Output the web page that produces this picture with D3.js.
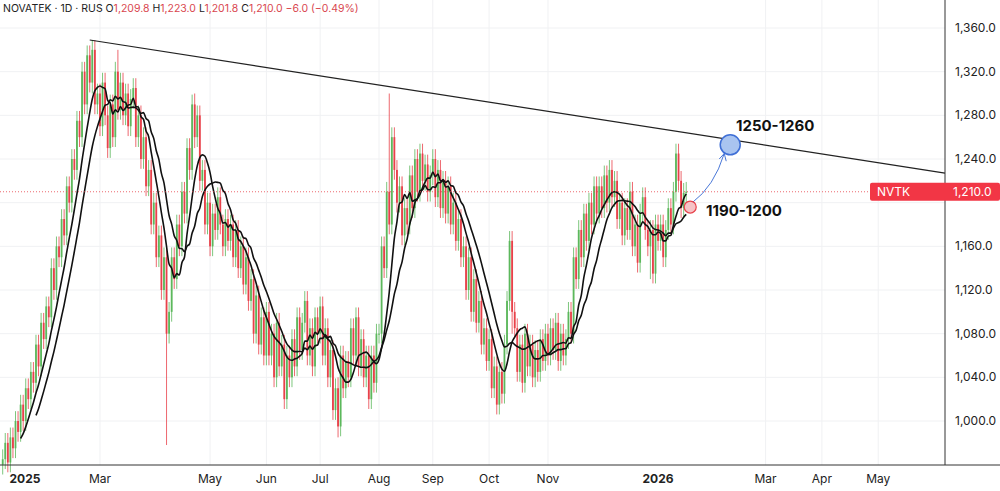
<!DOCTYPE html>
<html><head><meta charset="utf-8">
<script src="https://cdn.jsdelivr.net/npm/d3@7"></script>
<style>
  body { margin: 0; background: #fff; font-family: "Inter", "Noto Sans", sans-serif; }
  svg text { font-family: "Inter", "Noto Sans", sans-serif; }
</style></head>
<body>
<svg id="chart" width="1000" height="491"></svg>
<script>
// daily closes, month by month (trading days from 2025-01-08)
const closeJan25 = [965,980,962,985,975,1000,990,1015,1000,1030,1020,1045,1035,1070,1050,1090,1075,1105];
const closeFeb = [1095,1140,1120,1160,1150,1185,1170,1215,1200,1240,1230,1275,1260,1320,1290,1335,1310,1340,1290,1300];
const closeMar = [1270,1310,1280,1250,1290,1260,1320,1285,1310,1280,1300,1270,1295,1305,1260,1280,1240,1260,1215,1230,1180];
const closeApr = [1200,1150,1170,1120,1150,1080,1100,1150,1130,1180,1160,1210,1190,1250,1230,1290,1260,1280,1220,1230,1180,1200];
const closeMay = [1160,1190,1175,1205,1180,1160,1185,1165,1180,1150,1175,1140,1160,1125,1150,1110,1130,1080,1115,1070,1095,1060];
const closeJun = [1100,1060,1080,1040,1090,1050,1070,1020,1060,1040,1075,1050,1095,1065,1090,1110,1060,1085,1050,1095,1080];
const closeJul = [1105,1060,1085,1040,1065,1010,1030,995,1060,1030,1055,1040,1085,1060,1095,1050,1075,1040,1060,1020,1060,1035,1080];
const closeAug = [1080,1160,1140,1210,1180,1260,1230,1200,1215,1170,1195,1180,1225,1195,1240,1210,1245,1220,1235,1210,1225];
const closeSep = [1240,1205,1230,1195,1220,1190,1215,1180,1200,1165,1185,1150,1160,1120,1150,1100,1130,1090,1110,1070,1085,1055];
const closeOct = [1075,1030,1050,1015,1045,1025,1070,1110,1165,1100,1085,1045,1070,1035,1080,1050,1070,1040,1065,1045,1075,1055,1080];
const closeNov = [1060,1085,1065,1090,1055,1080,1060,1075,1100,1080,1150,1130,1175,1150,1190,1165,1200,1180,1215,1190];
const closeDec = [1215,1195,1225,1200,1230,1205,1220,1185,1200,1170,1195,1175,1210,1160,1180,1145,1190,1205,1175,1160,1175,1135,1180];
const closeJan26 = [1165,1180,1150,1175,1195,1180,1210,1245,1220,1195,1209,1210];
const closes = [].concat(closeJan25, closeFeb, closeMar, closeApr, closeMay, closeJun, closeJul,
  closeAug, closeSep, closeOct, closeNov, closeDec, closeJan26);

// notable wick extremes: [bar index, high, low]
const wickSpikes = [[35,1349,1300],[45,1340,1280],[64,1150,978],[75,1300,1250],[131,1040,985],[151,1300,1220],[199,1165,1080],[263,1248,1225],[253,1165,1130]];
const monthTicks = [["2025-01-08","2025",true],["2025-03-01","Mar"],["2025-05-01","May"],["2025-06-01","Jun"],["2025-07-01","Jul"],["2025-08-01","Aug"],["2025-09-01","Sep"],["2025-10-01","Oct"],["2025-11-01","Nov"],["2026-01-01","2026",true],["2026-03-01","Mar"],["2026-04-01","Apr"],["2026-05-01","May"]];
const priceTicks = [1000,1040,1080,1120,1160,1200,1240,1280,1320,1360];
const trendPoints = [[34,1349],[267,1264]];
const lastPrice = 1210;

// weekday calendar
const days = [];
for (let d = new Date(2025,0,8); days.length < 380; d.setDate(d.getDate()+1)) {
  if (d.getDay() !== 0 && d.getDay() !== 6) days.push(new Date(d));
}
const dayIndex = s => { const t = new Date(s + "T00:00:00"); return days.findIndex(d => d >= t); };

const bars = closes.map((c, i) => {
  const o = i ? closes[i-1] : c - 5;
  let h = Math.max(o, c) + 9, l = Math.min(o, c) - 9;
  const sp = wickSpikes.find(s => s[0] === i);
  if (sp) { h = Math.max(h, sp[1]); l = Math.min(l, sp[2]); }
  return { i, o, c, h, l };
});
function sma(n) { return closes.map((c, i) => i < n-1 ? null : d3.mean(closes.slice(i-n+1, i+1))); }

const svg = d3.select("#chart");
const plotRight = 945, bottom = 465;
const x = d3.scaleLinear().domain([0, 268]).range([2.7, 2.7 + 268*2.56]);
const y = d3.scaleLinear().domain([1000, 1360]).range([421, 28]);

const grid = svg.append("g");
priceTicks.forEach(v => grid.append("line").attr("x1",0).attr("x2",plotRight).attr("y1",y(v)).attr("y2",y(v)).attr("stroke","#f0f1f3"));
monthTicks.forEach(m => { const xx = x(dayIndex(m[0])); if (!m[2]) grid.append("line").attr("x1",xx).attr("x2",xx).attr("y1",0).attr("y2",bottom).attr("stroke","#f0f1f3"); });

const gc = svg.append("g");
bars.forEach(b => {
  const col = b.c >= b.o ? "#5cb85c" : "#e8414a";
  gc.append("line").attr("x1",x(b.i)).attr("x2",x(b.i)).attr("y1",y(b.h)).attr("y2",y(b.l)).attr("stroke",col).attr("stroke-width",0.8);
  gc.append("rect").attr("x",x(b.i)-0.9).attr("width",1.8).attr("y",y(Math.max(b.o,b.c))).attr("height",Math.max(1,Math.abs(y(b.o)-y(b.c)))).attr("fill",col);
});

const line = d3.line().defined(d => d[1] != null).x(d => x(d[0])).y(d => y(d[1])).curve(d3.curveMonotoneX);
[sma(8), sma(14)].forEach(s => svg.append("path").attr("d", line(s.map((v,i)=>[i,v]))).attr("fill","none").attr("stroke","#111").attr("stroke-width",1.6));

// trendline extended to axis
const [p0, p1] = trendPoints;
const slope = (p1[1]-p0[1])/(p1[0]-p0[0]);
const iEnd = x.invert(plotRight);
svg.append("line").attr("x1",x(p0[0])).attr("y1",y(p0[1])).attr("x2",plotRight).attr("y2",y(p0[1]+slope*(iEnd-p0[0]))).attr("stroke","#222").attr("stroke-width",1.2);

// price line
svg.append("line").attr("x1",0).attr("x2",plotRight).attr("y1",y(lastPrice)).attr("y2",y(lastPrice)).attr("stroke","#e8414a").attr("stroke-width",0.8).attr("stroke-dasharray","1,2");

// annotations
const lastI = closes.length - 1;
svg.append("path").attr("d", `M${x(lastI)+6},${y(1200)} Q${x(lastI)+28},${y(1215)} ${x(lastI)+38},${y(1245)}`).attr("fill","none").attr("stroke","#4a78d8").attr("stroke-width",1);
svg.append("path").attr("d", `M${x(lastI)+33},${y(1240)} L${x(lastI)+38},${y(1245)} L${x(lastI)+40},${y(1238)}`).attr("fill","none").attr("stroke","#4a78d8").attr("stroke-width",1);
svg.append("circle").attr("cx",x(lastI)+44).attr("cy",y(1253)).attr("r",10).attr("fill","#a9c4f0").attr("stroke","#3f6fd6").attr("stroke-width",1.5);
svg.append("circle").attr("cx",x(lastI)+4).attr("cy",y(1196)).attr("r",6).attr("fill","#f6c2c6").attr("stroke","#e8414a").attr("stroke-width",1.2);
svg.append("text").attr("x",736).attr("y",131).attr("font-size",15).attr("font-weight",700).attr("fill","#111").text("1250-1260");
svg.append("text").attr("x",706).attr("y",216).attr("font-size",15).attr("font-weight",700).attr("fill","#111").text("1190-1200");

// axes
svg.append("line").attr("x1",plotRight).attr("x2",plotRight).attr("y1",0).attr("y2",bottom).attr("stroke","#333");
svg.append("line").attr("x1",0).attr("x2",1000).attr("y1",bottom).attr("y2",bottom).attr("stroke","#333");
// the 1,200.0 label sits under the price tag, as in the reference it is hidden
priceTicks.filter(v => v !== 1200).forEach(v => svg.append("text").attr("x",955).attr("y",y(v)+4).attr("font-size",12).attr("fill","#222").text(d3.format(",.1f")(v)));
monthTicks.forEach(m => {
  const xx = m[2] && m[1] === "2025" ? 25 : x(dayIndex(m[0]));
  svg.append("text").attr("x",xx).attr("y",483).attr("text-anchor","middle").attr("font-size",12)
    .attr("font-weight",m[2]?700:400).attr("fill","#222").text(m[1]);
});
svg.append("rect").attr("x",870).attr("y",y(lastPrice)-9).attr("width",130).attr("height",18).attr("rx",2).attr("fill","#f23645");
svg.append("text").attr("x",877).attr("y",y(lastPrice)+4.5).attr("font-size",12).attr("fill","#fff").text("NVTK");
svg.append("text").attr("x",953).attr("y",y(lastPrice)+4.5).attr("font-size",12).attr("fill","#fff").text(d3.format(",.1f")(lastPrice));

// header
const hdr = svg.append("text").attr("x",3).attr("y",12).attr("font-size",10.5).attr("fill","#222");
hdr.append("tspan").text("NOVATEK · 1D · RUS  O");
hdr.append("tspan").attr("fill","#d9474f").text("1,209.8  ");
hdr.append("tspan").text("H");
hdr.append("tspan").attr("fill","#d9474f").text("1,223.0  ");
hdr.append("tspan").text("L");
hdr.append("tspan").attr("fill","#d9474f").text("1,201.8  ");
hdr.append("tspan").text("C");
hdr.append("tspan").attr("fill","#d9474f").text("1,210.0  −6.0 (−0.49%)");
</script>
</body></html>
